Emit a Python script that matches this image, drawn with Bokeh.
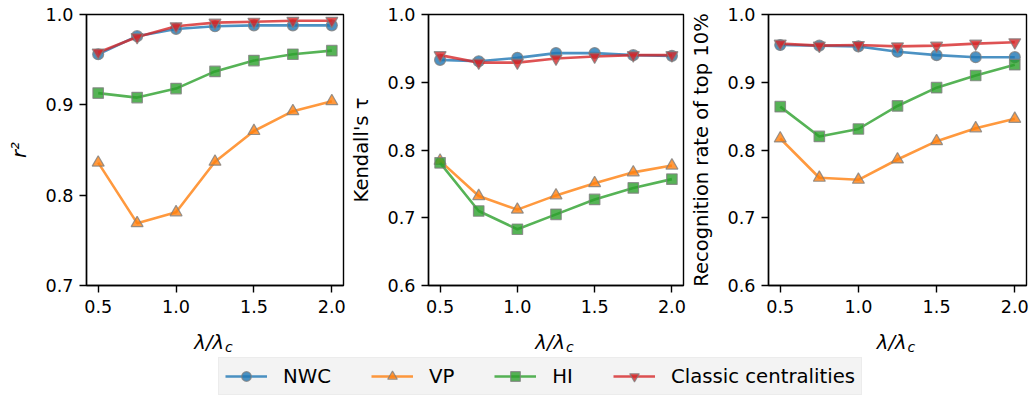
from bokeh.plotting import figure
from bokeh.layouts import row, column
from bokeh.models import Range1d, FixedTicker, Label, Legend, LegendItem, NumeralTickFormatter
from bokeh.embed import file_html
from bokeh.resources import INLINE

# ---------------- data ----------------
ratio = [0.5, 0.75, 1.0, 1.25, 1.5, 1.75, 2.0]
x_ticks = [0.5, 1.0, 1.5, 2.0]

series_names = ["NWC", "VP", "HI", "Classic centralities"]

r2_nwc = [0.956, 0.976, 0.984, 0.987, 0.988, 0.988, 0.988]
r2_vp = [0.836, 0.769, 0.781, 0.837, 0.871, 0.893, 0.904]
r2_hi = [0.913, 0.908, 0.918, 0.937, 0.949, 0.956, 0.960]
r2_cc = [0.958, 0.975, 0.987, 0.991, 0.992, 0.993, 0.993]

tau_nwc = [0.933, 0.931, 0.936, 0.943, 0.943, 0.940, 0.939]
tau_vp = [0.784, 0.732, 0.712, 0.733, 0.751, 0.767, 0.777]
tau_hi = [0.781, 0.710, 0.683, 0.705, 0.727, 0.744, 0.757]
tau_cc = [0.940, 0.929, 0.929, 0.935, 0.938, 0.940, 0.940]

rec_nwc = [0.955, 0.954, 0.953, 0.945, 0.940, 0.937, 0.937]
rec_vp = [0.817, 0.759, 0.756, 0.786, 0.813, 0.832, 0.846]
rec_hi = [0.864, 0.820, 0.831, 0.865, 0.892, 0.910, 0.926]
rec_cc = [0.957, 0.954, 0.955, 0.953, 0.954, 0.957, 0.959]

y_ticks_r2 = [0.7, 0.8, 0.9, 1.0]
y_ticks_other = [0.6, 0.7, 0.8, 0.9, 1.0]

# ---------------- style ----------------
colors = ["#1f77b4", "#ff7f0e", "#2ca02c", "#d62728"]
markers = ["circle", "triangle", "square", "inverted_triangle"]
msizes = [11, 12, 10.5, 12]
FONT = "DejaVu Sans"


def style_axes(p, yticks):
    p.xaxis.ticker = FixedTicker(ticks=x_ticks)
    p.yaxis.ticker = FixedTicker(ticks=yticks)
    p.xaxis.formatter = NumeralTickFormatter(format="0.0")
    p.yaxis.formatter = NumeralTickFormatter(format="0.0")
    for ax in list(p.xaxis) + list(p.yaxis):
        ax.axis_line_color = "black"
        ax.axis_line_width = 1.4
        ax.major_tick_line_color = "black"
        ax.major_tick_line_width = 1.4
        ax.major_tick_out = 7
        ax.major_tick_in = 0
        ax.minor_tick_out = 0
        ax.minor_tick_in = 0
        ax.major_label_text_font = FONT
        ax.major_label_text_font_size = "17.6px"
        ax.major_label_text_color = "black"
        ax.axis_label_text_font = FONT
        ax.axis_label_text_font_size = "19.5px"
        ax.axis_label_text_font_style = "normal"
        ax.axis_label_text_color = "black"
    p.xaxis.major_label_standoff = 7
    p.yaxis.major_label_standoff = 6
    p.yaxis.axis_label_standoff = 12
    p.xgrid.visible = False
    p.ygrid.visible = False
    p.outline_line_color = "black"
    p.outline_line_width = 1.4
    p.outline_line_alpha = 1.0


def draw_series(p, ys_list):
    rends = []
    for ys, c, m, s in zip(ys_list, colors, markers, msizes):
        l = p.line(ratio, ys, line_color=c, line_width=2.6, line_alpha=0.8)
        sc = p.scatter(ratio, ys, marker=m, size=s, fill_color=c, fill_alpha=0.8,
                       line_color="#808080", line_alpha=0.8, line_width=1.2)
        rends.append((l, sc))
    return rends


def make_panel(ys_list, ylabel, ylo, yticks, left, fw, right, ylabel_italic=False):
    xr = Range1d(0.425, 2.075)
    p = figure(width=left + fw + right, height=322,
               x_range=xr, y_range=Range1d(ylo, 1.0),
               output_backend="svg", toolbar_location=None,
               min_border_left=left, min_border_right=right,
               min_border_top=14, min_border_bottom=37)
    style_axes(p, yticks)
    p.yaxis.axis_label = ylabel
    if ylabel_italic:
        p.yaxis.axis_label_text_font_style = "italic"
    draw_series(p, ys_list)

    # x-axis label (lambda / lambda_c) drawn in a strip below the panel
    lab = figure(width=left + fw + right, height=32, x_range=xr, y_range=Range1d(0, 32),
                 output_backend="svg", toolbar_location=None,
                 min_border_left=left, min_border_right=right,
                 min_border_top=0, min_border_bottom=0,
                 x_axis_type=None, y_axis_type=None)
    lab.outline_line_color = None
    lab.grid.visible = False
    lab.add_layout(Label(x=1.25, y=12, text="λ/λ", text_align="right",
                         text_baseline="alphabetic", x_offset=9,
                         text_font=FONT, text_font_style="italic",
                         text_font_size="19.5px", text_color="black"))
    lab.add_layout(Label(x=1.25, y=8, text="c", text_align="left",
                         text_baseline="alphabetic", x_offset=10,
                         text_font=FONT, text_font_style="italic",
                         text_font_size="14px", text_color="black"))
    return column(p, lab)


p1 = make_panel([r2_nwc, r2_vp, r2_hi, r2_cc], "r²", 0.7, y_ticks_r2, 86, 257, 3, ylabel_italic=True)
p2 = make_panel([tau_nwc, tau_vp, tau_hi, tau_cc], "Kendall's τ", 0.6, y_ticks_other, 81, 256, 3)
p3 = make_panel([rec_nwc, rec_vp, rec_hi, rec_cc], "Recognition rate of top 10%", 0.6, y_ticks_other, 82, 258, 4)

# ---------------- legend ----------------
lp = figure(width=1030, height=42, x_range=Range1d(100, 101), y_range=Range1d(0, 1),
            output_backend="svg", toolbar_location=None, min_border=0,
            x_axis_type=None, y_axis_type=None)
lp.outline_line_color = None
lp.grid.visible = False
lrends = draw_series(lp, [r2_nwc, r2_vp, r2_hi, r2_cc])
items = [LegendItem(label=n, renderers=[l, s]) for n, (l, s) in zip(series_names, lrends)]
legend = Legend(items=items, orientation="horizontal", location=(218, 1),
                glyph_width=42, glyph_height=24, label_standoff=16, spacing=40,
                padding=6, margin=0,
                label_text_font=FONT, label_text_font_size="19.7px",
                label_text_color="black",
                background_fill_color="#f3f3f3", background_fill_alpha=1.0,
                border_line_color="#e6e6e6", border_line_width=1)
lp.add_layout(legend, "center")

layout = column(row(p1, p2, p3), lp)
open("out.html", "w").write(file_html(layout, INLINE))
